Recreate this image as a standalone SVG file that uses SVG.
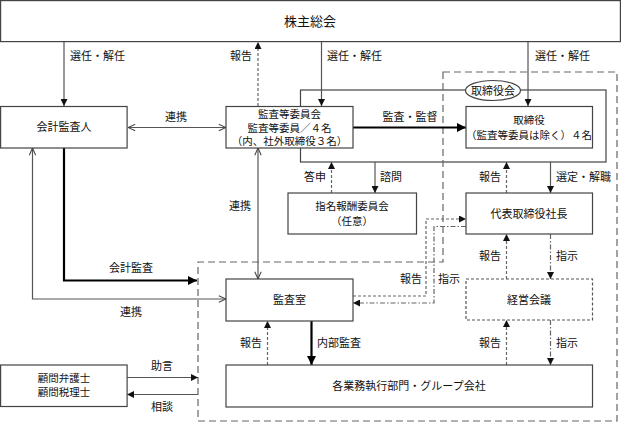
<svg xmlns="http://www.w3.org/2000/svg" width="621" height="424" viewBox="0 0 621 424">
<defs>
<marker id="ah" viewBox="0 0 10 10" refX="10" refY="5" markerWidth="7" markerHeight="7" markerUnits="userSpaceOnUse" orient="auto"><path d="M0,0 L10,5 L0,10 z" fill="#111"/></marker>
<marker id="ahb" viewBox="0 0 10 10" refX="10" refY="5" markerWidth="9" markerHeight="9" markerUnits="userSpaceOnUse" orient="auto"><path d="M0,0 L10,5 L0,10 z" fill="#000"/></marker>
<marker id="ao" viewBox="0 0 10 10" refX="10" refY="5" markerWidth="8" markerHeight="8" markerUnits="userSpaceOnUse" orient="auto-start-reverse"><path d="M1,1 L10,5 L1,9" fill="none" stroke="#444" stroke-width="1.3"/></marker>
</defs>
<style>
text{font-family:"Noto Sans CJK JP","Noto Sans",sans-serif;font-size:11px;fill:#111;text-anchor:middle}
.sm{font-size:10.5px}
.box{fill:#fff;stroke:#444;stroke-width:1.2}
.dbox{fill:#fff;stroke:#555;stroke-width:1.2;stroke-dasharray:3,2}
.ln{fill:none;stroke:#555;stroke-width:1.2}
.thick{fill:none;stroke:#000;stroke-width:2.2}
.dash{fill:none;stroke:#666;stroke-width:1.2;stroke-dasharray:3,2}
.dashdot{fill:none;stroke:#666;stroke-width:1.2;stroke-dasharray:5,2,1.5,2}
.region{fill:none;stroke:#666;stroke-width:1.2;stroke-dasharray:7,4}
.lbl{text-anchor:start}
.lblr{text-anchor:end}
</style>
<rect width="621" height="424" fill="#fff"/>

<g id="board">
<rect x="300.5" y="90" width="305.5" height="72" fill="none" stroke="#444" stroke-width="1.2"/>
</g>
<g id="region">
<path class="region" d="M443,72 H617 V421 H198 V262 H443 Z"/>
</g>

<g id="connectors">
<line class="ln" x1="64" y1="42" x2="64" y2="106" marker-end="url(#ah)"/>
<line class="ln" x1="321.5" y1="42" x2="321.5" y2="106" marker-end="url(#ah)"/>
<line class="ln" x1="528" y1="42" x2="528" y2="106" marker-end="url(#ah)"/>
<line class="dash" x1="258" y1="106" x2="258" y2="42" marker-end="url(#ah)"/>
<line class="ln" x1="128" y1="127.5" x2="226" y2="127.5" marker-start="url(#ao)" marker-end="url(#ao)"/>
<line class="thick" x1="353" y1="127.5" x2="466" y2="127.5" marker-end="url(#ahb)"/>
<line class="dash" x1="331.5" y1="193" x2="331.5" y2="162" marker-end="url(#ah)"/>
<line class="ln" x1="375" y1="162" x2="375" y2="193" marker-end="url(#ah)"/>
<line class="dash" x1="506.5" y1="193" x2="506.5" y2="162" marker-end="url(#ah)"/>
<line class="ln" x1="550.5" y1="162" x2="550.5" y2="193" marker-end="url(#ah)"/>
<line class="dash" x1="506.5" y1="279" x2="506.5" y2="234" marker-end="url(#ah)"/>
<line class="dashdot" x1="550.5" y1="234" x2="550.5" y2="279" marker-end="url(#ah)"/>
<line class="dash" x1="506.5" y1="365" x2="506.5" y2="320" marker-end="url(#ah)"/>
<line class="dashdot" x1="550.5" y1="320" x2="550.5" y2="365" marker-end="url(#ah)"/>
<line class="ln" x1="258" y1="148" x2="258" y2="279" marker-start="url(#ao)" marker-end="url(#ao)"/>
<line class="dash" x1="267.5" y1="365" x2="267.5" y2="321" marker-end="url(#ah)"/>
<line class="thick" x1="311.5" y1="321" x2="311.5" y2="365" marker-end="url(#ahb)"/>
<polyline class="thick" points="64,148 64,280.5 197,280.5" marker-end="url(#ahb)"/>
<polyline class="ln" points="32.5,148 32.5,299 226,299" marker-start="url(#ao)" marker-end="url(#ao)"/>
<polyline class="dash" points="353,296 426,296 426,219 466,219" marker-end="url(#ah)"/>
<polyline class="dashdot" points="466,226.5 434,226.5 434,303 353,303" marker-end="url(#ah)"/>
<line class="ln" x1="127" y1="377.5" x2="198" y2="377.5" marker-end="url(#ah)"/>
<line class="ln" x1="198" y1="394.5" x2="127" y2="394.5" marker-end="url(#ah)"/>
</g>

<g id="labels">
<text class="lbl" x="70" y="60">選任・解任</text>
<text class="lblr" x="252" y="60">報告</text>
<text class="lbl" x="327" y="60">選任・解任</text>
<text class="lbl" x="535" y="60">選任・解任</text>
<text x="176" y="121">連携</text>
<text x="410" y="121">監査・監督</text>
<text class="lblr" x="326" y="181">答申</text>
<text class="lbl" x="380" y="181">諮問</text>
<text class="lblr" x="501" y="181">報告</text>
<text class="lbl" x="556" y="181">選定・解職</text>
<text class="lblr" x="251" y="210">連携</text>
<text class="lblr" x="501" y="260">報告</text>
<text class="lbl" x="556" y="260">指示</text>
<text x="131" y="272">会計監査</text>
<text class="lblr" x="422" y="283">報告</text>
<text class="lbl" x="438" y="283">指示</text>
<text x="131" y="316">連携</text>
<text class="lblr" x="262" y="347">報告</text>
<text class="lbl" x="317" y="347">内部監査</text>
<text class="lblr" x="501" y="347">報告</text>
<text class="lbl" x="556" y="347">指示</text>
<text x="162" y="370">助言</text>
<text x="162" y="411">相談</text>
</g>

<g id="n-shareholders">
<rect class="box" x="0.6" y="0.6" width="619.8" height="41"/>
<text x="310" y="26" style="font-size:13px">株主総会</text>
</g>
<g id="n-auditor">
<rect class="box" x="0.6" y="106.5" width="126.5" height="41.5"/>
<text x="64" y="131">会計監査人</text>
</g>
<g id="n-auditcommittee">
<rect class="box" x="226" y="106.5" width="127" height="41.5"/>
<text class="sm" x="289.5" y="117.5">監査等委員会</text>
<text class="sm" x="289.5" y="131.5">監査等委員／４名</text>
<text class="sm" x="289.5" y="145">（内、社外取締役３名）</text>
</g>
<g id="n-boardlabel">
<ellipse cx="493" cy="90.5" rx="27.5" ry="10" fill="#fff" stroke="#444" stroke-width="1.2"/>
<text x="493" y="94.5">取締役会</text>
</g>
<g id="n-directors">
<rect class="box" x="466" y="106.5" width="126.5" height="41.5"/>
<text class="sm" x="529" y="124">取締役</text>
<text class="sm" x="529" y="138.5">（監査等委員は除く）４名</text>
</g>
<g id="n-nomination">
<rect class="box" x="288" y="193" width="128.5" height="41"/>
<text class="sm" x="352" y="210">指名報酬委員会</text>
<text class="sm" x="352" y="224.5">（任意）</text>
</g>
<g id="n-president">
<rect class="box" x="466" y="193" width="126.5" height="41"/>
<text x="529" y="217.5">代表取締役社長</text>
</g>
<g id="n-auditoffice">
<rect class="box" x="226" y="279" width="127" height="42"/>
<text x="289.5" y="304">監査室</text>
</g>
<g id="n-management">
<rect class="dbox" x="466" y="279" width="126.5" height="41"/>
<text x="529" y="303.5">経営会議</text>
</g>
<g id="n-advisors">
<rect class="box" x="0.6" y="365" width="126.5" height="41.5"/>
<text class="sm" x="64" y="381.5">顧問弁護士</text>
<text class="sm" x="64" y="396">顧問税理士</text>
</g>
<g id="n-business">
<rect class="box" x="226" y="365" width="366.5" height="42"/>
<text x="409" y="390">各業務執行部門・グループ会社</text>
</g>
</svg>
